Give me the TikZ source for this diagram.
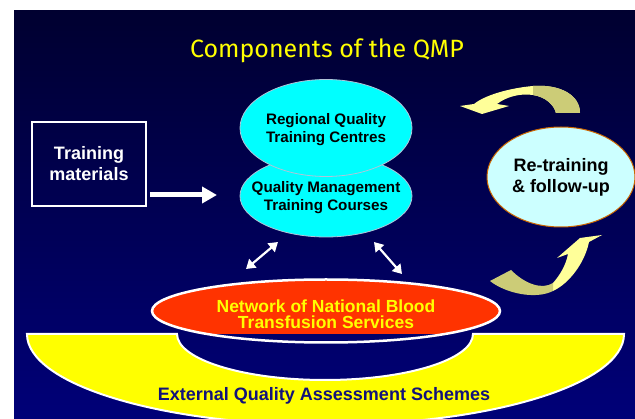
\documentclass[tikz,border=0pt]{standalone}
\usepackage{fontspec}
\setmainfont{Liberation Sans}
\newfontfamily\titlefont{Fira Sans}
\usepackage{tikz}
\usetikzlibrary{calc,arrows.meta,shapes.geometric}
\definecolor{bgtop}{HTML}{000030}
\definecolor{bgbot}{HTML}{000078}
\definecolor{cyanfill}{HTML}{00FFFF}
\definecolor{cyanedge}{HTML}{B0C4D8}
\definecolor{palecyan}{HTML}{CCFFFF}
\definecolor{rim}{HTML}{CC6600}
\definecolor{netred}{HTML}{FF3300}
\definecolor{gold}{HTML}{FFFF00}
\definecolor{navy}{HTML}{12127A}
\definecolor{ribbon}{HTML}{FFFF99}
\definecolor{ribbonback}{HTML}{CCCC77}
\tikzset{
  ell/.style={ellipse, draw=cyanedge, fill=cyanfill, line width=0.8pt, inner sep=0pt, minimum width=172pt},
  lab/.style={font=\fontsize{15.2}{18}\selectfont\bfseries, align=center, text=black},
  labw/.style={font=\fontsize{18}{21}\selectfont\bfseries, align=center, text=white},
  matbox/.style={labw, draw=white, line width=1.5pt, minimum width=114pt, minimum height=84pt},
  retrell/.style={ellipse, draw=rim, fill=palecyan, line width=1pt, inner sep=0pt,
    minimum width=148pt, minimum height=100pt, font=\fontsize{18}{21}\selectfont\bfseries, align=center},
  netell/.style={ellipse, draw=white, line width=2.5pt, minimum width=348pt, minimum height=63pt},
  nettxt/.style={font=\fontsize{17.5}{16}\selectfont\bfseries, align=center, text=gold},
  eqastxt/.style={font=\fontsize{18}{21}\selectfont\bfseries, text=navy},
  fat/.style={draw=white, line width=5pt, -{Triangle[length=15pt,width=16pt]}},
  dbl/.style={draw=white, line width=2.2pt, {Triangle[length=9pt,width=11pt]}-{Triangle[length=9pt,width=11pt]}}
}
\begin{document}
\begin{tikzpicture}[x=1pt,y=-1pt]
  \fill[white] (0,0) rectangle (635,419);
  \useasboundingbox (0,0) rectangle (635,419);
  \shade[top color=bgtop, bottom color=bgbot] (14,11) rectangle (635,419);
  % assessment band with the bowl cut out
  \fill[gold, draw=white, line width=2pt] (27,334) -- (177,334)
    arc[start angle=180, end angle=360, x radius=148pt, y radius=46pt]
    -- (624,334) arc[start angle=0, end angle=-180, x radius=298.5pt, y radius=91pt] -- cycle;
  \node[eqastxt] (eqas) at (324,396) {External Quality Assessment Schemes};
  % national services, lower part sunk in the bowl
  \begin{scope}
    \clip (100,270) rectangle (560,334);
    \fill[netred] (326,311) ellipse [x radius=174pt, y radius=31.5pt];
  \end{scope}
  \node[netell] (net) at (326,311) {};
  \node[nettxt] (nettext) at (326,314) {Network of National Blood\\Transfusion Services};
  % training centres and courses
  \node[ell, minimum height=82pt] (qmtc) at (326,196) {};
  \node[lab] (qmtctext) at (326,198) {Quality Management\\Training Courses};
  \node[ell, minimum height=97pt] (rqtc) at (326,128) {};
  \node[lab] (rqtctext) at (326,130) {Regional Quality\\Training Centres};
  \node[retrell] (retr) at (561,177) {Re-training\\\& follow-up};
  \node[matbox] (mat) at (89,164) {Training\\materials};
  \coordinate (matend) at (217,195);
  \draw[fat] ($(mat.east)+(3,31)$) -- (matend);
  \coordinate (la) at (246,269);
  \coordinate (lb) at (278,242);
  \coordinate (ra) at (374,242);
  \coordinate (rb) at (402,274);
  \draw[dbl] (la) -- (lb);
  \draw[dbl] (ra) -- (rb);
  % curl arrows round the re-training step
  \fill[ribbon] (580,113) .. controls (580,95) and (560,84) .. (533,86)
    .. controls (510,88) and (485,95) .. (474,104) -- (460,106) -- (482,114) -- (509,106) -- (497,104)
    .. controls (506,97) and (520,93) .. (533,95) .. controls (546,97) and (554,105) .. (556,113) -- cycle;
  \fill[ribbonback] (580,113) .. controls (580,95) and (560,84) .. (533,86)
    -- (533,95) .. controls (546,97) and (554,105) .. (556,113) -- cycle;
  \fill[ribbon] (553,283) .. controls (560,275) and (566,265) .. (568,254) -- (557,258) -- (580,238)
    -- (602,235) -- (589,242) .. controls (585,262) and (570,283) .. (553,291) -- cycle;
  \fill[ribbonback] (490,281) -- (511,270) .. controls (525,284) and (542,290) .. (553,283)
    -- (553,291) .. controls (535,300) and (505,293) .. (490,281) -- cycle;
  \node[text=gold, font=\titlefont\fontsize{25}{30}\selectfont] (title) at (327,51) {Components of the QMP};
\end{tikzpicture}
\end{document}
